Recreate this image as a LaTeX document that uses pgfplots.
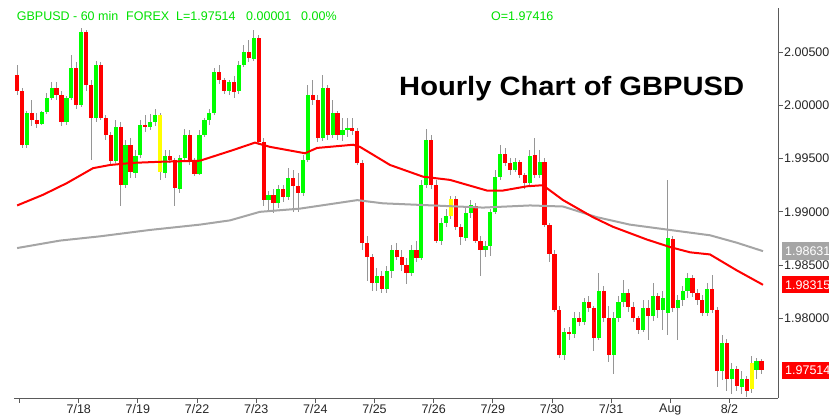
\documentclass[border=0pt]{standalone}
\usepackage{pgfplots}
\pgfplotsset{compat=1.18}
\usepackage{pgfplotstable}
\usepackage{graphicx}
\usepackage{fontspec}
\setmainfont{Liberation Sans}
\definecolor{cgreen}{RGB}{0,255,0}
\definecolor{tgreen}{RGB}{0,225,0}
\definecolor{cred}{RGB}{255,0,0}
\definecolor{cyellow}{RGB}{255,255,0}
\definecolor{wick}{RGB}{150,150,150}
\definecolor{magray}{RGB}{165,165,165}
\definecolor{axgray}{RGB}{90,90,90}

\pgfplotstableread{
x o h l c
3 1.9963 1.9995 1.9960 1.9993
9 1.9983 1.9995 1.9982 1.9994
11 1.9994 2.0012 1.9992 2.0007
13 2.0007 2.0022 2.0005 2.0016
19 1.9984 2.0009 1.9982 2.0007
21 2.0007 2.0047 2.0005 2.0035
25 2.0000 2.0073 1.9999 2.0069
31 1.9988 2.0042 1.9984 2.0038
39 1.9948 1.9986 1.9946 1.9980
43 1.9925 1.9967 1.9922 1.9963
47 1.9937 1.9958 1.9932 1.9953
49 1.9953 1.9986 1.9951 1.9982
53 1.9980 1.9992 1.9977 1.9984
55 1.9984 1.9997 1.9981 1.9991
59 1.9937 1.9958 1.9932 1.9953
65 1.9922 1.9953 1.9918 1.9951
67 1.9951 1.9978 1.9949 1.9972
73 1.9936 1.9977 1.9935 1.9972
75 1.9972 1.9988 1.9970 1.9986
77 1.9986 1.9997 1.9982 1.9993
79 1.9993 2.0035 1.9991 2.0031
85 2.0014 2.0024 2.0010 2.0022
89 2.0013 2.0042 2.0011 2.0038
91 2.0038 2.0057 2.0036 2.0050
95 2.0044 2.0071 2.0042 2.0063
101 1.9911 1.9920 1.9901 1.9916
105 1.9908 1.9925 1.9904 1.9922
109 1.9914 1.9941 1.9911 1.9932
115 1.9918 1.9953 1.9915 1.9949
117 1.9949 2.0019 1.9947 2.0010
123 1.9969 2.0029 1.9967 2.0016
127 1.9972 2.0005 1.9969 1.9993
131 1.9972 1.9988 1.9967 1.9977
133 1.9977 1.9988 1.9970 1.9979
145 1.9833 1.9847 1.9826 1.9840
149 1.9828 1.9849 1.9824 1.9845
151 1.9845 1.9869 1.9838 1.9864
159 1.9843 1.9869 1.9840 1.9864
163 1.9857 1.9930 1.9855 1.9925
165 1.9925 1.9978 1.9922 1.9967
171 1.9873 1.9894 1.9869 1.9890
173 1.9890 1.9903 1.9886 1.9896
181 1.9876 1.9906 1.9873 1.9899
183 1.9899 1.9911 1.9894 1.9906
189 1.9864 1.9873 1.9858 1.9868
191 1.9868 1.9903 1.9859 1.9900
193 1.9900 1.9939 1.9898 1.9933
195 1.9933 1.9963 1.9930 1.9954
201 1.9939 1.9951 1.9937 1.9947
207 1.9927 1.9958 1.9924 1.9953
211 1.9935 1.9958 1.9932 1.9947
221 1.9766 1.9791 1.9761 1.9787
225 1.9785 1.9806 1.9782 1.9800
229 1.9797 1.9819 1.9794 1.9815
235 1.9782 1.9843 1.9780 1.9826
241 1.9766 1.9806 1.9748 1.9800
243 1.9800 1.9821 1.9797 1.9815
245 1.9815 1.9836 1.9811 1.9824
253 1.9789 1.9817 1.9787 1.9810
257 1.9802 1.9833 1.9798 1.9821
261 1.9808 1.9826 1.9789 1.9819
263 1.9805 1.9930 1.9784 1.9875
267 1.9810 1.9822 1.9780 1.9817
269 1.9817 1.9830 1.9812 1.9826
271 1.9826 1.9843 1.9819 1.9838
279 1.9805 1.9833 1.9802 1.9828
285 1.9751 1.9784 1.9742 1.9777
289 1.9743 1.9758 1.9729 1.9752
293 1.9736 1.9751 1.9729 1.9743
299 1.9752 1.9763 1.9743 1.9760
}\upbars

\pgfplotstableread{
x o h l c
-1 2.0029 2.0038 2.0010 2.0014
1 2.0014 2.0016 1.9960 1.9963
5 1.9993 2.0005 1.9981 1.9986
7 1.9986 1.9993 1.9979 1.9983
15 2.0016 2.0022 2.0005 2.0010
17 2.0010 2.0014 1.9981 1.9984
23 2.0035 2.0041 1.9997 2.0000
27 2.0069 2.0071 2.0014 2.0019
29 2.0019 2.0024 1.9949 1.9988
33 2.0038 2.0041 1.9986 1.9988
35 1.9988 1.9991 1.9967 1.9972
37 1.9972 1.9975 1.9945 1.9948
41 1.9980 1.9984 1.9906 1.9925
45 1.9963 1.9969 1.9932 1.9937
51 1.9982 1.9991 1.9975 1.9980
61 1.9953 1.9958 1.9946 1.9949
63 1.9949 1.9951 1.9906 1.9922
69 1.9972 1.9977 1.9944 1.9947
71 1.9947 1.9951 1.9934 1.9936
81 2.0031 2.0038 2.0020 2.0024
83 2.0024 2.0026 2.0011 2.0014
87 2.0022 2.0028 2.0007 2.0013
93 2.0050 2.0061 2.0041 2.0044
97 2.0063 2.0066 1.9963 1.9966
99 1.9966 1.9969 1.9906 1.9911
103 1.9916 1.9922 1.9899 1.9908
107 1.9922 1.9925 1.9909 1.9914
111 1.9932 1.9939 1.9900 1.9924
113 1.9924 1.9937 1.9900 1.9918
119 2.0010 2.0024 2.0000 2.0005
121 2.0005 2.0010 1.9966 1.9969
125 2.0016 2.0019 1.9967 1.9972
129 1.9993 1.9995 1.9967 1.9972
135 1.9979 1.9988 1.9972 1.9976
137 1.9976 1.9979 1.9944 1.9946
139 1.9946 1.9949 1.9864 1.9871
141 1.9871 1.9877 1.9835 1.9858
143 1.9858 1.9860 1.9826 1.9833
147 1.9840 1.9845 1.9824 1.9828
153 1.9864 1.9871 1.9855 1.9858
155 1.9858 1.9864 1.9845 1.9850
157 1.9850 1.9857 1.9832 1.9843
161 1.9864 1.9873 1.9853 1.9857
167 1.9967 1.9972 1.9922 1.9925
169 1.9925 1.9930 1.9871 1.9873
177 1.9912 1.9915 1.9883 1.9886
179 1.9886 1.9889 1.9869 1.9876
185 1.9906 1.9908 1.9871 1.9873
187 1.9873 1.9877 1.9840 1.9864
197 1.9954 1.9960 1.9943 1.9946
199 1.9946 1.9951 1.9935 1.9939
203 1.9947 1.9949 1.9932 1.9935
205 1.9935 1.9937 1.9922 1.9927
209 1.9953 1.9969 1.9932 1.9935
213 1.9947 1.9951 1.9886 1.9888
215 1.9888 1.9890 1.9853 1.9860
217 1.9860 1.9864 1.9806 1.9808
219 1.9808 1.9812 1.9763 1.9766
223 1.9787 1.9792 1.9780 1.9785
227 1.9800 1.9806 1.9793 1.9797
231 1.9815 1.9821 1.9806 1.9810
233 1.9810 1.9812 1.9769 1.9782
237 1.9826 1.9830 1.9797 1.9800
239 1.9800 1.9812 1.9759 1.9766
247 1.9824 1.9828 1.9806 1.9811
249 1.9811 1.9815 1.9797 1.9800
251 1.9800 1.9802 1.9785 1.9789
255 1.9810 1.9817 1.9780 1.9802
259 1.9821 1.9824 1.9800 1.9808
265 1.9875 1.9877 1.9806 1.9810
273 1.9838 1.9841 1.9820 1.9824
275 1.9824 1.9828 1.9813 1.9817
277 1.9817 1.9822 1.9802 1.9805
281 1.9828 1.9841 1.9805 1.9808
283 1.9808 1.9811 1.9736 1.9751
287 1.9777 1.9781 1.9732 1.9743
291 1.9752 1.9755 1.9732 1.9736
295 1.9743 1.9746 1.9726 1.9732
301 1.9760 1.9762 1.9748 1.97514
}\downbars

\pgfplotstableread{
x o h l c
57 1.9991 1.9993 1.9930 1.9937
175 1.9896 1.9915 1.9893 1.9912
297 1.9734 1.9765 1.9730 1.9758
}\yellowbars

\pgfplotsset{
  wickstyle/.style={draw=none, mark=none, forget plot,
    error bars/.cd, y dir=both, y explicit, error mark=none,
    error bar style={draw=wick, line width=1pt}},
  bodystyle/.style={draw=none, mark=none, forget plot,
    error bars/.cd, y dir=both, y explicit, error mark=none,
    error bar style={draw=#1, line width=4.2pt}},
}

\begin{document}
\begin{tikzpicture}
\useasboundingbox (0pt,0pt) rectangle (829pt,418pt);
\clip (0pt,0pt) rectangle (829pt,418pt);
\begin{axis}[
  at={(14pt,20pt)}, anchor=south west,
  width=764pt, height=390pt, scale only axis,
  xmin=-2.27, xmax=307.7, ymin=1.97252, ymax=2.00914,
  enlargelimits=false, clip=false,
  axis x line=bottom, axis y line=right,
  axis line style={-, draw=axgray, line width=0.9pt},
  xtick={0,24,...,288},
  xticklabels={,7/18,7/19,7/22,7/23,7/24,7/25,7/26,7/29,7/30,7/31,Aug,8/2},
  ytick={1.98,1.985,1.99,1.995,2.0,2.005},
  yticklabels={1.98000,1.98500,1.99000,1.99500,2.00000,2.00500},
  xtick align=outside, ytick align=outside,
  major tick length=5pt,
  every tick/.style={draw=axgray, line width=0.9pt},
  ticklabel style={font=\fontsize{12.5}{14}\selectfont, text=black!85, inner sep=1pt},
]
% wicks
\addplot[wickstyle] table[x=x, y expr={(\thisrow{h}+\thisrow{l})/2}, y error expr={(\thisrow{h}-\thisrow{l})/2}] {\upbars};
\addplot[wickstyle] table[x=x, y expr={(\thisrow{h}+\thisrow{l})/2}, y error expr={(\thisrow{h}-\thisrow{l})/2}] {\downbars};
\addplot[wickstyle] table[x=x, y expr={(\thisrow{h}+\thisrow{l})/2}, y error expr={(\thisrow{h}-\thisrow{l})/2}] {\yellowbars};
% bodies
\addplot[bodystyle=cgreen] table[x=x, y expr={(\thisrow{o}+\thisrow{c})/2}, y error expr={abs(\thisrow{c}-\thisrow{o})/2}] {\upbars};
\addplot[bodystyle=cred] table[x=x, y expr={(\thisrow{o}+\thisrow{c})/2}, y error expr={abs(\thisrow{c}-\thisrow{o})/2}] {\downbars};
\addplot[bodystyle=cyellow] table[x=x, y expr={(\thisrow{o}+\thisrow{c})/2}, y error expr={abs(\thisrow{c}-\thisrow{o})/2}] {\yellowbars};
% moving averages
\addplot[magray, line width=2pt, mark=none] coordinates {
(-1,1.9866) (16.4,1.9873) (32.6,1.9877) (52.9,1.9883) (73.2,1.9888) (85.4,1.9892) (97.5,1.9900)
(113.7,1.9903) (137,1.9911) (147.4,1.9908) (167.7,1.9906) (188,1.9904) (207.1,1.9906)
(220.5,1.9905) (234.2,1.9895) (247.6,1.9888) (263.8,1.9883) (280.1,1.9878) (291,1.9871) (301.6,1.98631)};
\addplot[cred, line width=2pt, mark=none] coordinates {
(-1,1.9906) (9.5,1.9916) (19.2,1.9927) (29.8,1.9941) (36.7,1.9944) (46,1.9946) (57,1.9947)
(73.2,1.9948) (86.6,1.9958) (95.5,1.9965) (101.6,1.9961) (115.8,1.9955) (120.7,1.9960)
(135.3,1.9963) (138.1,1.9961) (150.3,1.9944) (163.7,1.9933) (174.6,1.9930) (189.6,1.9920)
(196.1,1.9920) (205.9,1.9924) (212.3,1.9925) (220.5,1.9911) (232.6,1.9895) (240.7,1.9886)
(254.5,1.9874) (263.8,1.9867) (272,1.9862) (280.1,1.9860) (291,1.9845) (301.6,1.98315)};
% value boxes on the price axis
\node[anchor=west, xshift=4pt, fill=magray, text=white, inner xsep=3pt, inner ysep=0pt,
  minimum height=18pt, text width=52pt, font=\fontsize{12.5}{14}\selectfont]
  at (axis cs:307.7,1.98631) {1.98631};
\node[anchor=west, xshift=4pt, fill=cred, text=white, inner xsep=3pt, inner ysep=0pt,
  minimum height=17pt, text width=52pt, font=\fontsize{12.5}{14}\selectfont]
  at (axis cs:307.7,1.98315) {1.98315};
\node[anchor=west, xshift=4pt, fill=cred, text=white, inner xsep=3pt, inner ysep=0pt,
  minimum height=17pt, text width=52pt, font=\fontsize{12.5}{14}\selectfont]
  at (axis cs:307.7,1.97514) {1.97514};
\end{axis}
% header line
\begin{scope}[every node/.style={anchor=base west, inner sep=0pt, text=tgreen, font=\fontsize{12.5}{14}\selectfont}]
\node at (16.7pt,397pt) {GBPUSD - 60 min};
\node at (126pt,397pt) {FOREX};
\node at (176pt,397pt) {L=1.97514};
\node at (246pt,397pt) {0.00001};
\node at (301pt,397pt) {0.00\%};
\node at (491pt,397pt) {O=1.97416};
\end{scope}
\node[anchor=base west, inner sep=0pt, font=\fontsize{26.5}{30}\selectfont\bfseries]
  at (399pt,322pt) {\scalebox{1.1}[1]{Hourly Chart of GBPUSD}};
\end{tikzpicture}
\end{document}
